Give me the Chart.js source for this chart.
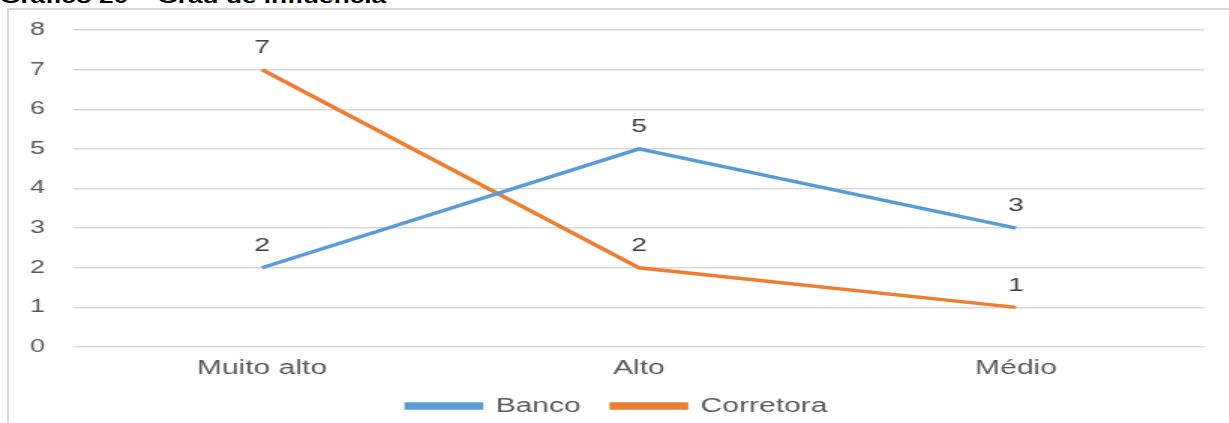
<!DOCTYPE html>
<html lang="pt">
<head>
    <meta charset="UTF-8">
    <title>Grau de influência</title>
    <script src="https://cdn.jsdelivr.net/npm/chart.js"></script>
    <style>
        body {
            margin: 0;
            background: white;
            font-family: "Liberation Sans", Arial, sans-serif;
            width: 1229px;
            height: 423px;
            overflow: hidden;
            position: relative;
        }
        .title {
            position: absolute;
            left: 0;
            top: -14px;
            font-size: 19px;
            font-weight: bold;
            color: black;
            white-space: nowrap;
            transform: scaleX(1.38);
            transform-origin: 0 0;
        }
        .chart-box {
            position: absolute;
            left: 7px;
            top: 8px;
            width: 1222px;
            height: 420px;
            border-left: 2px solid #d9d9d9;
            border-top: 2px solid #d9d9d9;
            box-sizing: border-box;
            overflow: hidden;
        }
        /* the source picture is stretched sideways, so the canvas is too */
        canvas {
            display: block;
            transform: scaleX(1.5);
            transform-origin: 0 0;
        }
    </style>
</head>
<body>
    <div class="title">Gráfico 20 – Grau de influência</div>
    <div class="chart-box">
        <canvas id="grauChart" width="814" height="416"></canvas>
    </div>

    <script>
        const categories = ['Muito alto', 'Alto', 'Médio'];
        const bancoValues = [2, 5, 3];
        const corretoraValues = [7, 2, 1];

        const FONT = '"Liberation Sans", Arial, sans-serif';

        // value labels above each point
        const valueLabels = {
            id: 'valueLabels',
            afterDatasetsDraw(chart) {
                const ctx = chart.ctx;
                ctx.save();
                ctx.font = '19px ' + FONT;
                ctx.fillStyle = '#404040';
                ctx.textAlign = 'center';
                ctx.textBaseline = 'middle';
                chart.data.datasets.forEach((ds, i) => {
                    chart.getDatasetMeta(i).data.forEach((pt, j) => {
                        ctx.fillText(ds.data[j], pt.x, pt.y - 22);
                    });
                });
                ctx.restore();
            }
        };

        const ctx = document.getElementById('grauChart').getContext('2d');
        new Chart(ctx, {
            type: 'line',
            data: {
                labels: categories,
                datasets: [{
                    label: 'Banco',
                    data: bancoValues,
                    borderColor: '#5b9bd5',
                    backgroundColor: '#5b9bd5',
                    borderWidth: 3.5,
                    pointRadius: 0,
                    tension: 0
                }, {
                    label: 'Corretora',
                    data: corretoraValues,
                    borderColor: '#ed7d31',
                    backgroundColor: '#ed7d31',
                    borderWidth: 3.5,
                    pointRadius: 0,
                    tension: 0
                }]
            },
            options: {
                responsive: false,
                animation: false,
                layout: {
                    padding: { top: 20, right: 17, left: 14, bottom: 0 }
                },
                plugins: {
                    legend: {
                        position: 'bottom',
                        labels: {
                            color: '#595959',
                            font: { size: 20, family: FONT },
                            boxWidth: 49,
                            boxHeight: 4,
                            padding: 21
                        }
                    },
                    tooltip: { enabled: false }
                },
                scales: {
                    x: {
                        offset: true,
                        afterFit(scale) { scale.height = 28; },
                        grid: { display: false, drawTicks: false },
                        border: { display: false },
                        ticks: {
                            color: '#595959',
                            font: { size: 20, family: FONT },
                            padding: 9
                        }
                    },
                    y: {
                        min: 0,
                        max: 8,
                        afterFit(scale) { scale.width = 29; },
                        grid: { color: '#d9d9d9', lineWidth: 1.5, drawTicks: false },
                        border: { display: false },
                        ticks: {
                            stepSize: 1,
                            color: '#595959',
                            font: { size: 18, family: FONT },
                            padding: 0,
                            crossAlign: 'far'
                        }
                    }
                }
            },
            plugins: [valueLabels]
        });
    </script>
</body>
</html>
